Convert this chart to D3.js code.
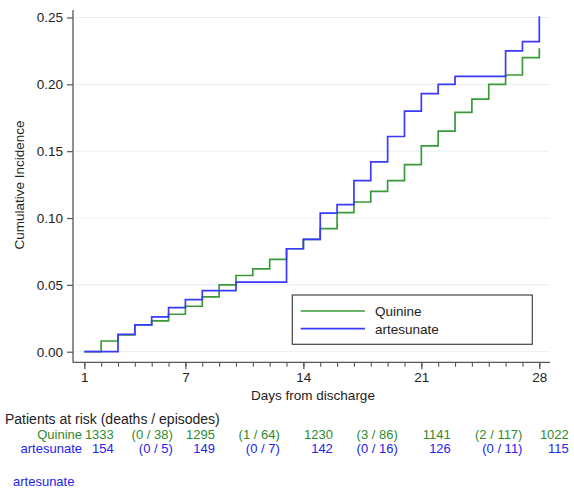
<!DOCTYPE html>
<html lang="en">
<head>
	<meta charset="UTF-8">
	<title>Cumulative incidence</title>
	<script src="https://cdn.jsdelivr.net/npm/d3@7"></script>
	<style>
		body {
			margin: 0;
			background: #fff;
		}
		svg text {
			font-family: "Liberation Sans", Arial, Helvetica, sans-serif;
		}
	</style>
</head>
<body>
<div id="viz"></div>
<script type="text/javascript">
	// days 1..28, value holds on [day, day+1)
	const days = d3.range(1, 29);
	const quinine = [0, 0.008, 0.0125, 0.020, 0.023, 0.028, 0.034, 0.041, 0.050, 0.057,
		0.062, 0.069, 0.077, 0.084, 0.092, 0.104, 0.112, 0.120, 0.128, 0.140,
		0.154, 0.165, 0.179, 0.189, 0.200, 0.207, 0.220, 0.227];
	const artesunate = [0, 0, 0.013, 0.020, 0.026, 0.033, 0.039, 0.0457, 0.0457, 0.052,
		0.052, 0.052, 0.077, 0.084, 0.1036, 0.110, 0.128, 0.142, 0.161, 0.180,
		0.193, 0.200, 0.206, 0.206, 0.206, 0.225, 0.232, 0.251];

	const xTicks = [1, 7, 14, 21, 28];
	const yTicks = [0, 0.05, 0.10, 0.15, 0.20, 0.25];

	const seriesNames = ['Quinine', 'artesunate'];
	const atRisk = {
		Quinine: [1333, 1295, 1230, 1141, 1022],
		artesunate: [154, 149, 142, 126, 115]
	};
	const deathsEpisodes = {
		Quinine: ['(0 / 38)', '(1 / 64)', '(3 / 86)', '(2 / 117)'],
		artesunate: ['(0 / 5)', '(0 / 7)', '(0 / 16)', '(0 / 11)']
	};

	const lineColor = {Quinine: '#3a9a3a', artesunate: '#3a3aff'};
	const textColor = {Quinine: '#2e8a2e', artesunate: '#2323ee'};

	const W = 574, H = 492;

	const svg = d3.select('#viz').append('svg')
		.attr('width', W)
		.attr('height', H);

	const x = d3.scaleLinear().domain([1, 28]).range([84.3, 539.3]);
	const y = d3.scaleLinear().domain([0, 0.25]).range([351.7, 17.5]);

	const axisColor = '#555';

	// gridlines
	svg.append('g')
		.selectAll('line')
		.data(yTicks)
		.enter().append('line')
		.attr('x1', 75).attr('x2', 550)
		.attr('y1', d => y(d)).attr('y2', d => y(d))
		.attr('stroke', '#e6eff3')
		.attr('stroke-width', 1);

	// y axis
	const gy = svg.append('g')
		.attr('transform', 'translate(73,0)')
		.call(d3.axisLeft(y).tickValues(yTicks).tickFormat(d3.format('.2f')).tickSize(6).tickPadding(4));
	gy.select('.domain').remove();
	gy.append('line')
		.attr('x1', 0).attr('x2', 0).attr('y1', 10).attr('y2', 362.5)
		.attr('stroke', axisColor).attr('stroke-width', 1.3);
	gy.selectAll('.tick line').attr('stroke', axisColor).attr('stroke-width', 1.2);
	gy.selectAll('.tick text').attr('fill', '#222').style('font-size', '13.5px');

	// x axis, minor ticks every day
	const gxMinor = svg.append('g')
		.attr('transform', 'translate(0,362.3)')
		.call(d3.axisBottom(x).tickValues(days).tickSize(4.5).tickFormat(''));
	gxMinor.select('.domain').remove();
	gxMinor.selectAll('.tick line').attr('stroke', axisColor).attr('stroke-width', 1.1);

	const gx = svg.append('g')
		.attr('transform', 'translate(0,362.3)')
		.call(d3.axisBottom(x).tickValues(xTicks).tickSize(7).tickPadding(3));
	gx.select('.domain').remove();
	gx.append('line')
		.attr('x1', 73).attr('x2', 550).attr('y1', 0).attr('y2', 0)
		.attr('stroke', axisColor).attr('stroke-width', 1.3);
	gx.selectAll('.tick line').attr('stroke', axisColor).attr('stroke-width', 1.2);
	gx.selectAll('.tick text').attr('fill', '#222').style('font-size', '13.5px');

	// axis titles
	svg.append('text')
		.attr('x', 313).attr('y', 400)
		.attr('text-anchor', 'middle')
		.style('font-size', '13.5px')
		.attr('fill', '#222')
		.text('Days from discharge');

	svg.append('text')
		.attr('transform', 'translate(24,185) rotate(-90)')
		.attr('text-anchor', 'middle')
		.style('font-size', '13.5px')
		.attr('fill', '#222')
		.text('Cumulative Incidence');

	// step lines
	const line = d3.line()
		.x(d => x(d[0]))
		.y(d => y(d[1]))
		.curve(d3.curveStepAfter);

	const series = {Quinine: quinine, artesunate: artesunate};

	seriesNames.forEach(name => {
		svg.append('path')
			.datum(days.map((d, i) => [d, series[name][i]]))
			.attr('d', line)
			.attr('fill', 'none')
			.attr('stroke', lineColor[name])
			.attr('stroke-width', 1.7);
	});

	// legend
	const lg = svg.append('g');
	lg.append('rect')
		.attr('x', 292.3).attr('y', 295)
		.attr('width', 240).attr('height', 49.3)
		.attr('fill', '#fff')
		.attr('stroke', '#444')
		.attr('stroke-width', 1.2);
	seriesNames.forEach((name, i) => {
		const ly = 311 + i * 17.7;
		lg.append('line')
			.attr('x1', 300.7).attr('x2', 365)
			.attr('y1', ly).attr('y2', ly)
			.attr('stroke', lineColor[name])
			.attr('stroke-width', 1.7);
		lg.append('text')
			.attr('x', 375).attr('y', ly + 5)
			.style('font-size', '13.5px')
			.attr('fill', '#222')
			.text(name);
	});

	// risk table
	svg.append('text')
		.attr('x', 5).attr('y', 424)
		.style('font-size', '14px')
		.attr('fill', '#222')
		.text('Patients at risk (deaths / episodes)');

	const parenDays = [6.25, 12.6, 19.6, 27.0];

	seriesNames.forEach((name, i) => {
		const ry = 438.5 + i * 14.5;
		const row = svg.append('g').style('font-size', '13px').attr('fill', textColor[name]);
		row.append('text')
			.attr('x', 82).attr('y', ry)
			.attr('text-anchor', 'end')
			.text(name);
		row.selectAll('.n')
			.data(atRisk[name])
			.enter().append('text')
			.attr('class', 'n')
			.attr('x', (d, j) => x(xTicks[j]) + 29.5)
			.attr('y', ry)
			.attr('text-anchor', 'end')
			.text(d => d);
		row.selectAll('.p')
			.data(deathsEpisodes[name])
			.enter().append('text')
			.attr('class', 'p')
			.attr('x', (d, j) => x(parenDays[j]))
			.attr('y', ry)
			.attr('text-anchor', 'end')
			.text(d => d);
	});

	svg.append('text')
		.attr('x', 13).attr('y', 486)
		.style('font-size', '13px')
		.attr('fill', textColor.artesunate)
		.text('artesunate');
</script>
</body>
</html>
